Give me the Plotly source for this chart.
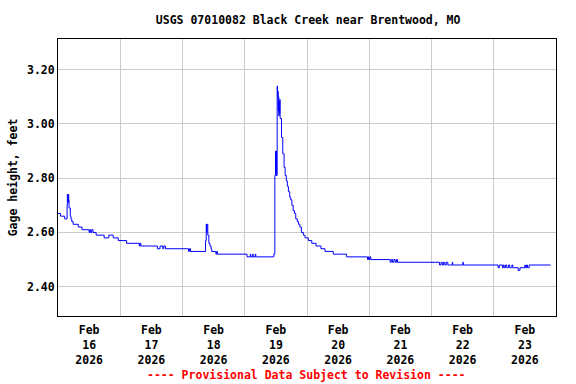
import plotly.graph_objects as go

# ---- data ----
times = [
    "2026-02-16 00:00", "2026-02-16 01:00", "2026-02-16 02:35", "2026-02-16 03:30", "2026-02-16 03:36",
    "2026-02-16 03:52", "2026-02-16 04:00", "2026-02-16 04:08", "2026-02-16 04:15", "2026-02-16 04:45",
    "2026-02-16 05:00", "2026-02-16 05:18", "2026-02-16 05:50", "2026-02-16 07:50", "2026-02-16 09:15",
    "2026-02-16 12:00", "2026-02-16 12:15", "2026-02-16 12:35", "2026-02-16 13:00", "2026-02-16 13:30",
    "2026-02-16 14:42", "2026-02-16 17:48", "2026-02-16 19:36", "2026-02-16 21:17", "2026-02-16 23:13",
    "2026-02-17 02:27", "2026-02-17 07:21", "2026-02-17 07:35", "2026-02-17 07:55", "2026-02-17 14:19",
    "2026-02-17 15:21", "2026-02-17 16:23", "2026-02-17 16:46", "2026-02-17 17:25",
    "2026-02-18 02:19", "2026-02-18 02:40", "2026-02-18 03:05", "2026-02-18 08:53", "2026-02-18 09:09",
    "2026-02-18 09:20", "2026-02-18 09:25", "2026-02-18 09:45", "2026-02-18 10:10", "2026-02-18 10:35",
    "2026-02-18 11:00", "2026-02-18 11:15", "2026-02-18 12:53", "2026-02-18 13:10", "2026-02-18 13:25",
    "2026-02-19 00:53", "2026-02-19 02:10", "2026-02-19 02:20", "2026-02-19 03:05", "2026-02-19 03:15",
    "2026-02-19 04:05", "2026-02-19 04:15", "2026-02-19 11:12", "2026-02-19 11:36", "2026-02-19 11:51",
    "2026-02-19 11:58", "2026-02-19 12:05", "2026-02-19 12:12", "2026-02-19 12:30", "2026-02-19 12:38",
    "2026-02-19 12:45", "2026-02-19 12:52", "2026-02-19 13:00", "2026-02-19 13:08", "2026-02-19 13:15",
    "2026-02-19 13:22", "2026-02-19 13:30", "2026-02-19 13:38", "2026-02-19 14:10", "2026-02-19 14:40",
    "2026-02-19 15:10", "2026-02-19 15:35", "2026-02-19 16:00", "2026-02-19 16:25", "2026-02-19 16:50",
    "2026-02-19 17:20", "2026-02-19 17:45", "2026-02-19 18:10", "2026-02-19 18:40", "2026-02-19 19:10",
    "2026-02-19 19:40", "2026-02-19 20:15", "2026-02-19 20:45", "2026-02-19 21:15", "2026-02-19 21:50",
    "2026-02-19 22:36", "2026-02-19 23:15",
    "2026-02-20 00:30", "2026-02-20 01:50", "2026-02-20 03:28", "2026-02-20 05:23", "2026-02-20 06:56",
    "2026-02-20 10:08", "2026-02-20 15:16", "2026-02-20 23:21", "2026-02-20 23:40", "2026-02-20 23:55",
    "2026-02-21 00:15", "2026-02-21 00:35", "2026-02-21 08:04", "2026-02-21 08:30", "2026-02-21 09:00",
    "2026-02-21 09:30", "2026-02-21 10:00", "2026-02-21 10:30", "2026-02-21 10:53",
    "2026-02-22 03:06", "2026-02-22 03:40", "2026-02-22 04:10", "2026-02-22 04:40", "2026-02-22 05:10",
    "2026-02-22 05:40", "2026-02-22 06:18", "2026-02-22 08:00", "2026-02-22 08:10", "2026-02-22 12:06",
    "2026-02-22 12:15",
    "2026-02-23 01:40", "2026-02-23 02:10", "2026-02-23 03:20", "2026-02-23 03:40", "2026-02-23 04:00",
    "2026-02-23 04:30", "2026-02-23 05:00", "2026-02-23 05:40", "2026-02-23 06:10", "2026-02-23 07:00",
    "2026-02-23 07:20", "2026-02-23 09:24", "2026-02-23 10:06", "2026-02-23 12:00", "2026-02-23 12:10",
    "2026-02-23 12:40", "2026-02-23 13:00", "2026-02-23 13:40", "2026-02-23 21:55",
]
gage_ft = [
    2.67, 2.66, 2.65, 2.70, 2.74,
    2.71, 2.74, 2.72, 2.69, 2.66,
    2.65, 2.64, 2.63, 2.62, 2.61,
    2.60, 2.61, 2.60, 2.61, 2.60,
    2.59, 2.58, 2.59, 2.58, 2.57,
    2.56, 2.55, 2.56, 2.55, 2.54,
    2.55, 2.54, 2.55, 2.54,
    2.53, 2.54, 2.53, 2.57, 2.63,
    2.60, 2.63, 2.59, 2.56, 2.55,
    2.54, 2.53, 2.52, 2.53, 2.52,
    2.51, 2.52, 2.51, 2.52, 2.51,
    2.52, 2.51, 2.52, 2.81, 2.90,
    2.82, 2.90, 2.81, 3.14, 3.10,
    3.12, 3.05, 3.10, 3.03, 3.08,
    3.04, 3.09, 3.02, 2.95, 2.89,
    2.84, 2.81, 2.79, 2.77, 2.75,
    2.73, 2.72, 2.70, 2.68, 2.67,
    2.65, 2.64, 2.63, 2.62, 2.60,
    2.59, 2.58,
    2.57, 2.56, 2.55, 2.54, 2.53,
    2.52, 2.51, 2.50, 2.51, 2.50,
    2.51, 2.50, 2.49, 2.50, 2.49,
    2.50, 2.49, 2.50, 2.49,
    2.48, 2.49, 2.48, 2.49, 2.48,
    2.49, 2.48, 2.49, 2.48, 2.49,
    2.48,
    2.47, 2.48, 2.47, 2.48, 2.47,
    2.48, 2.47, 2.48, 2.47, 2.48,
    2.47, 2.46, 2.47, 2.48, 2.47,
    2.48, 2.47, 2.48, 2.48,
]

day_grid = ["2026-02-16", "2026-02-17", "2026-02-18", "2026-02-19", "2026-02-20",
            "2026-02-21", "2026-02-22", "2026-02-23", "2026-02-24"]
label_pos = ["2026-02-16 12:00", "2026-02-17 12:00", "2026-02-18 12:00", "2026-02-19 12:00",
             "2026-02-20 12:00", "2026-02-21 12:00", "2026-02-22 12:00", "2026-02-23 12:00"]
label_text = ["Feb<br>16<br>2026", "Feb<br>17<br>2026", "Feb<br>18<br>2026", "Feb<br>19<br>2026",
              "Feb<br>20<br>2026", "Feb<br>21<br>2026", "Feb<br>22<br>2026", "Feb<br>23<br>2026"]
y_ticks = [2.40, 2.60, 2.80, 3.00, 3.20]

FONT = "DejaVu Sans Mono"
FS = 11.5

fig = go.Figure()
fig.add_trace(go.Scatter(
    x=times, y=gage_ft, mode="lines", line=dict(color="#0000ff", width=1, shape="hv"),
    showlegend=False, hoverinfo="x+y",
))

fig.update_layout(
    width=576, height=384,
    margin=dict(l=58, r=20, t=39, b=68),
    paper_bgcolor="white", plot_bgcolor="white",
    font=dict(family=FONT, size=FS, color="black", weight="bold"),
    title=dict(text="USGS 07010082 Black Creek near Brentwood, MO",
               x=0.535, xanchor="center", y=0.948, yanchor="middle",
               font=dict(family=FONT, size=FS, color="black", weight="bold")),
    xaxis=dict(
        type="date", automargin=False,
        range=["2026-02-16 00:00", "2026-02-24 00:00"],
        tickmode="array", tickvals=label_pos, ticktext=label_text,
        showgrid=False, ticks="", ticklen=0, ticklabelstandoff=3,
        showline=True, linecolor="black", linewidth=1, mirror=True,
        tickfont=dict(family=FONT, size=FS, color="black", weight="bold"),
        minor=dict(tickmode="array", tickvals=day_grid, showgrid=True, gridcolor="#cccccc",
                   gridwidth=1, ticks=""),
        zeroline=False,
    ),
    yaxis=dict(
        range=[2.292, 3.313], automargin=False,
        tickmode="array", tickvals=y_ticks, tickformat=".2f",
        showgrid=True, gridcolor="#cccccc", gridwidth=1, ticks="",
        showline=True, linecolor="black", linewidth=1, mirror=True, zeroline=False,
        title=dict(text="Gage height, feet", standoff=6,
                   font=dict(family=FONT, size=FS, color="black", weight="bold")),
        tickfont=dict(family=FONT, size=FS, color="black", weight="bold"),
    ),
    annotations=[dict(
        text="---- Provisional Data Subject to Revision ----",
        xref="paper", yref="paper", x=0.499, y=-0.213, xanchor="center", yanchor="middle",
        showarrow=False, font=dict(family=FONT, size=FS, color="#ff0000", weight="bold"),
    )],
)

fig.write_html("out.html", config={"displayModeBar": False},
               post_script="document.body.style.margin='0';document.body.style.padding='0';")
